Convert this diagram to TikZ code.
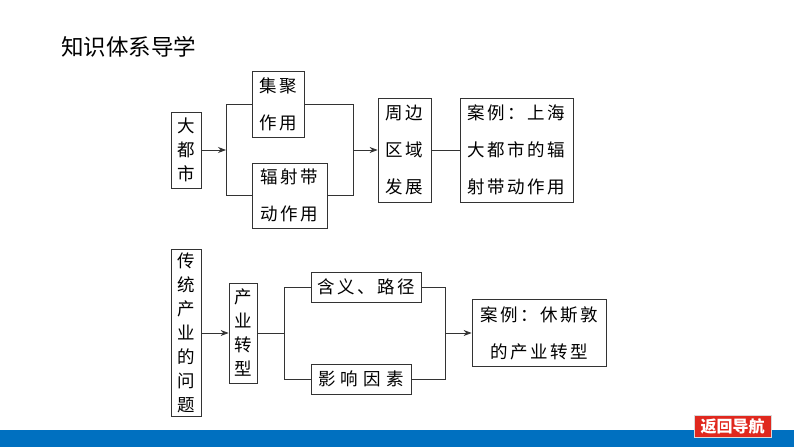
\documentclass[tikz,border=0pt]{standalone}
\usepackage{fontspec}
\newfontfamily\cjk{Noto Sans CJK SC}
\usetikzlibrary{arrows.meta}
\newlength\lsk
\setlength\lsk{2.5pt}
\makeatletter
\def\lsp#1{\lsp@a#1\relax}
\def\lsp@a#1#2{#1\ifx\relax#2\else\kern\lsk\expandafter\lsp@a\expandafter#2\fi}
\makeatother
\definecolor{barblue}{RGB}{0,112,192}
\definecolor{btnred}{RGB}{224,40,30}
\begin{document}
\begin{tikzpicture}[x=1pt,y=-1pt,
  box/.style={draw=black!80, line width=0.8pt, inner sep=0pt, align=center, font=\cjk\fontsize{17.5}{37}\selectfont},
  vbox/.style={box, font=\cjk\fontsize{17.5}{24}\selectfont},
  ln/.style={draw=black!80, line width=0.8pt},
  arr/.style={ln, -{Stealth[length=8pt,width=6pt]}}]
\useasboundingbox (0,0) rectangle (794,447);
\fill[white] (0,0) rectangle (794,447);
% title
\node[anchor=west, inner sep=0pt, font=\cjk\fontsize{22.5}{22.5}\selectfont] (title) at (61,47) {知识体系导学};
% bottom bar and button
\fill[barblue] (0,430) rectangle (794,447);
\node[fill=btnred, draw=black!15, line width=0.6pt, minimum width=77pt, minimum height=22pt, inner sep=0pt, text=white, font=\cjk\bfseries\fontsize{16}{16}\selectfont] (back) at (732.5,426.5) {返回导航};
% top diagram
\node[vbox, minimum width=30pt, minimum height=76pt] (dushi) at (186,150) {大\\都\\市};
\node[box, minimum width=52pt, minimum height=66pt] (jiju) at (278,104) {\lsp{集聚}\\\lsp{作用}};
\node[box, minimum width=75pt, minimum height=65pt] (fushe) at (289.5,195.5) {\lsp{辐射带}\\\lsp{动作用}};
\node[box, minimum width=53pt, minimum height=104pt] (zhoubian) at (404.5,150) {\lsp{周边}\\\lsp{区域}\\\lsp{发展}};
\node[box, minimum width=113pt, minimum height=104pt] (anli1) at (516.5,150) {\lsp{案例：上海}\\\lsp{大都市的辐}\\\lsp{射带动作用}};
\coordinate (bl1) at (226,150);
\coordinate (br1) at (353,150);
\draw[arr] (dushi.east) -- (bl1);
\draw[ln] (jiju.west) -- (jiju.west -| bl1) -- (fushe.west -| bl1) -- (fushe.west);
\draw[ln] (jiju.east) -- (jiju.east -| br1) -- (fushe.east -| br1) -- (fushe.east);
\draw[arr] (br1) -- (zhoubian.west);
\draw[ln] (zhoubian.east) -- (anli1.west);
% bottom diagram
\node[vbox, minimum width=30pt, minimum height=167pt] (chuantong) at (186,333) {传\\统\\产\\业\\的\\问\\题};
\node[vbox, minimum width=28pt, minimum height=100pt] (zhuanxing) at (243,333) {产\\业\\转\\型};
\node[box, minimum width=110pt, minimum height=30pt] (hanyi) at (366,287) {\lsp{含义、路径}};
\setlength\lsk{5pt}
\node[box, minimum width=100pt, minimum height=30pt] (yingxiang) at (361,379) {\lsp{影响因素}};
\setlength\lsk{2.5pt}
\node[box, minimum width=134pt, minimum height=67pt] (anli2) at (539,333) {\lsp{案例：休斯敦}\\\lsp{的产业转型}};
\coordinate (bl2) at (284,333);
\coordinate (br2) at (445,333);
\draw[arr] (chuantong.east) -- (zhuanxing.west);
\draw[ln] (zhuanxing.east) -- (bl2);
\draw[ln] (hanyi.west) -- (hanyi.west -| bl2) -- (yingxiang.west -| bl2) -- (yingxiang.west);
\draw[ln] (hanyi.east) -- (hanyi.east -| br2) -- (yingxiang.east -| br2) -- (yingxiang.east);
\draw[arr] (br2) -- (anli2.west);
\end{tikzpicture}
\end{document}
